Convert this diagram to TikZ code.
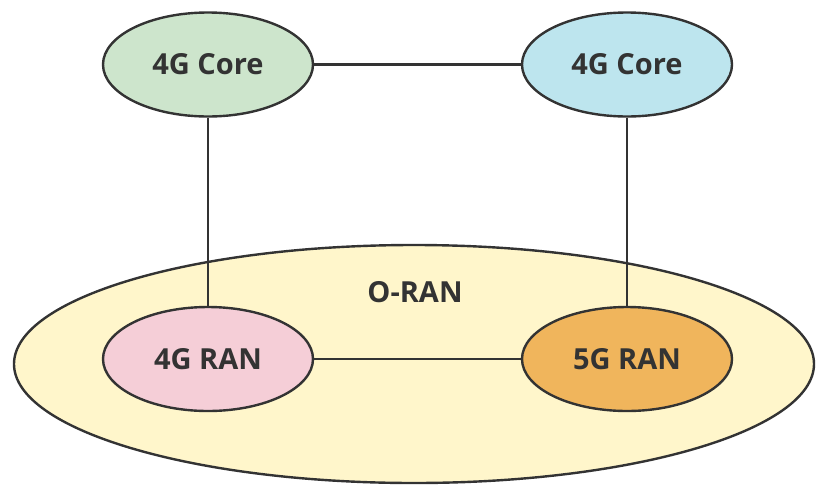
\documentclass[tikz,border=0pt]{standalone}
\usepackage{fontspec}
\setmainfont{Open Sans}
\usetikzlibrary{shapes.geometric}

\definecolor{linegray}{HTML}{333333}
\definecolor{coregreen}{HTML}{CDE5CC}
\definecolor{coreblue}{HTML}{BDE5EE}
\definecolor{ranpink}{HTML}{F5CED7}
\definecolor{ranorange}{HTML}{F0B55C}
\definecolor{oranyellow}{HTML}{FFF6CB}

\begin{document}
\begin{tikzpicture}[x=1pt,y=-1pt,
  every node/.style={text=linegray,font=\fontsize{29}{32}\selectfont\bfseries},
  unit/.style={ellipse,draw=linegray,line width=2.4pt,inner sep=0pt,
    minimum width=210pt,minimum height=104pt},
  link/.style={draw=linegray,line width=2.2pt}]

  \useasboundingbox (0,0) rectangle (816,485);

%% O-RAN
  \node [ellipse,draw=linegray,line width=2.4pt,fill=oranyellow,
    minimum width=800pt,minimum height=238pt] (oran) at (414,364) {};
  \node (oranlabel) at (415,292) {O-RAN};

%% cores
  \node [unit,fill=coregreen] (core4a) at (208,64.5) {4G Core};
  \node [unit,fill=coreblue] (core4b) at (627,64.5) {4G Core};

%% RAN
  \node [unit,fill=ranpink] (ran4) at (208,359) {4G RAN};
  \node [unit,fill=ranorange] (ran5) at (627,359) {5G RAN};

%% connections
  \draw [link] (core4a) -- (core4b);
  \draw [link] (core4a) -- (ran4);
  \draw [link] (core4b) -- (ran5);
  \draw [link] (ran4) -- (ran5);

\end{tikzpicture}
\end{document}
